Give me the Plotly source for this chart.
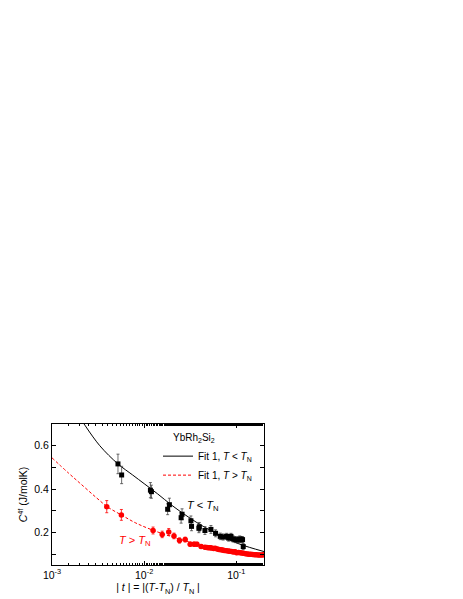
import plotly.graph_objects as go

# T < T_N data (black squares)
t_below = [0.0052, 0.0057, 0.0117, 0.0120, 0.0180, 0.0188, 0.0252, 0.0258, 0.0322, 0.0327,
           0.0393, 0.0397, 0.0457, 0.0531, 0.0596, 0.067, 0.072, 0.0785, 0.0827, 0.0876,
           0.0925, 0.0985, 0.105, 0.109, 0.114, 0.117, 0.119]
c_below = [0.516, 0.465, 0.395, 0.388, 0.307, 0.328, 0.268, 0.284, 0.254, 0.228,
           0.219, 0.226, 0.209, 0.214, 0.196, 0.182, 0.179, 0.182, 0.174, 0.182,
           0.170, 0.167, 0.165, 0.170, 0.167, 0.167, 0.135]
err_below = [0.045, 0.040, 0.035, 0.030, 0.025, 0.030, 0.025, 0.025, 0.022, 0.020,
             0.020, 0.020, 0.018, 0.018, 0.016, 0.015, 0.014, 0.014, 0.014, 0.014,
             0.014, 0.014, 0.014, 0.014, 0.014, 0.014, 0.014]

# T > T_N data (red circles)
t_above = [0.00393, 0.00566, 0.0125, 0.0157, 0.0185, 0.0211, 0.0242, 0.0279, 0.0316, 0.0349,
           0.0374, 0.0415, 0.0457, 0.048, 0.050, 0.052, 0.054, 0.057, 0.059, 0.062,
           0.065, 0.068, 0.071, 0.074, 0.078, 0.082, 0.085, 0.089, 0.093, 0.097,
           0.101, 0.106, 0.110, 0.115, 0.120, 0.126, 0.132, 0.138, 0.144, 0.151,
           0.158, 0.165, 0.173, 0.181, 0.190, 0.198]
c_above = [0.319, 0.281, 0.209, 0.191, 0.202, 0.184, 0.163, 0.167, 0.146, 0.146,
           0.146, 0.135, 0.132, 0.131, 0.129, 0.130, 0.128, 0.126, 0.127, 0.124,
           0.122, 0.120, 0.119, 0.117, 0.116, 0.114, 0.113, 0.112, 0.110, 0.111,
           0.106, 0.108, 0.107, 0.105, 0.104, 0.102, 0.101, 0.099, 0.099, 0.098,
           0.097, 0.097, 0.096, 0.096, 0.096, 0.097]
err_above = [0.028, 0.025, 0.016, 0.015, 0.016, 0.013, 0.012, 0.011, 0.010, 0.010,
             0.009, 0.009, 0.008, 0.008, 0.008, 0.008, 0.008, 0.008, 0.008, 0.008,
             0.008, 0.008, 0.008, 0.008, 0.008, 0.008, 0.008, 0.008, 0.008, 0.008,
             0.008, 0.008, 0.008, 0.008, 0.008, 0.008, 0.008, 0.008, 0.008, 0.008,
             0.008, 0.008, 0.008, 0.008, 0.008, 0.008]

# Fit curves
fit_below_t = [0.00223, 0.0033, 0.0052, 0.0075, 0.0100, 0.0140, 0.0200, 0.0300, 0.0450,
               0.0700, 0.1000, 0.1400, 0.2000]
fit_below_c = [0.700, 0.600, 0.516, 0.465, 0.425, 0.378, 0.325, 0.272, 0.225,
               0.183, 0.152, 0.131, 0.112]
fit_above_t = [0.001, 0.0015, 0.002, 0.003, 0.004, 0.0057, 0.008, 0.012, 0.02, 0.03,
               0.05, 0.08, 0.12, 0.2]
fit_above_c = [0.544, 0.475, 0.428, 0.362, 0.318, 0.280, 0.245, 0.213, 0.180, 0.158,
               0.134, 0.117, 0.105, 0.096]

x_tickvals = [1e-3, 1e-2, 1e-1]
x_ticktext = ["10<sup>-3</sup>", "10<sup>-2</sup>", "10<sup>-1</sup>"]
y_tickvals = [0.2, 0.4, 0.6]

font = "Liberation Sans, Arial, sans-serif"

fig = go.Figure()

fig.add_trace(go.Scatter(
    name="Fit 1, <i>T</i> < <i>T</i><sub>N</sub>",
    mode="lines", x=fit_below_t, y=fit_below_c,
    line=dict(color="black", width=1, shape="spline"),
))
fig.add_trace(go.Scatter(
    name="Fit 1, <i>T</i> > <i>T</i><sub>N</sub>",
    mode="lines", x=fit_above_t, y=fit_above_c,
    line=dict(color="red", width=1, dash="3px,2px", shape="spline"),
))

fig.add_trace(go.Scatter(
    mode="markers", x=t_above, y=c_above, showlegend=False,
    marker=dict(symbol="circle", size=5.5, color="red"),
    error_y=dict(type="data", array=err_above, color="red", thickness=0.8, width=1.5),
))
fig.add_trace(go.Scatter(
    mode="markers", x=t_below, y=c_below, showlegend=False,
    marker=dict(symbol="square", size=5, color="black"),
    error_y=dict(type="data", array=err_below, color="#444", thickness=0.8, width=1.5),
))

fig.add_annotation(x=0.71, y=0.418, xref="paper", yref="paper", showarrow=False,
                   xanchor="center", yanchor="middle",
                   text="<i>T</i> < <i>T</i><sub>N</sub>", font=dict(size=11, color="black"))
fig.add_annotation(x=0.39, y=0.17, xref="paper", yref="paper", showarrow=False,
                   xanchor="center", yanchor="middle",
                   text="<i>T</i> > <i>T</i><sub>N</sub>", font=dict(size=11, color="red"))
fig.add_annotation(x=0.561, y=0.90, xref="paper", yref="paper", showarrow=False,
                   xanchor="left", yanchor="middle",
                   text="YbRh<sub>2</sub>Si<sub>2</sub>", font=dict(size=10, color="black"))

fig.update_layout(
    width=463, height=599,
    margin=dict(l=44, r=207, t=416, b=42),
    paper_bgcolor="white", plot_bgcolor="white",
    font=dict(family=font, size=10, color="black"),
    legend=dict(
        x=0.50, y=0.875, xanchor="left", yanchor="top",
        bgcolor="rgba(0,0,0,0)", font=dict(size=10),
        tracegroupgap=0, itemwidth=30,
    ),
    xaxis=dict(
        type="log", range=[-3, -0.699],
        tickvals=x_tickvals, ticktext=x_ticktext,
        ticks="inside", ticklen=4, tickcolor="black",
        showline=True, linecolor="black", linewidth=1, mirror="allticks",
        showgrid=False, zeroline=False,
        minor=dict(ticks="inside", ticklen=2, tickcolor="black", showgrid=False),
        tickfont=dict(size=10.5),
        title=dict(text="| <i>t</i> | = |(<i>T</i>-<i>T</i><sub>N</sub>) / <i>T</i><sub>N</sub> |",
                   font=dict(size=10.5), standoff=4),
    ),
    yaxis=dict(
        range=[0.05, 0.7],
        tickvals=y_tickvals,
        ticks="inside", ticklen=4, tickcolor="black",
        showline=True, linecolor="black", linewidth=1, mirror="allticks",
        showgrid=False, zeroline=False,
        minor=dict(dtick=0.1, ticks="inside", ticklen=4, tickcolor="black", showgrid=False),
        tickfont=dict(size=10.5),
        title=dict(text="<i>C</i><sup>4f</sup> (J/molK)", font=dict(size=10.5), standoff=4),
    ),
)

fig.write_html("out.html")
